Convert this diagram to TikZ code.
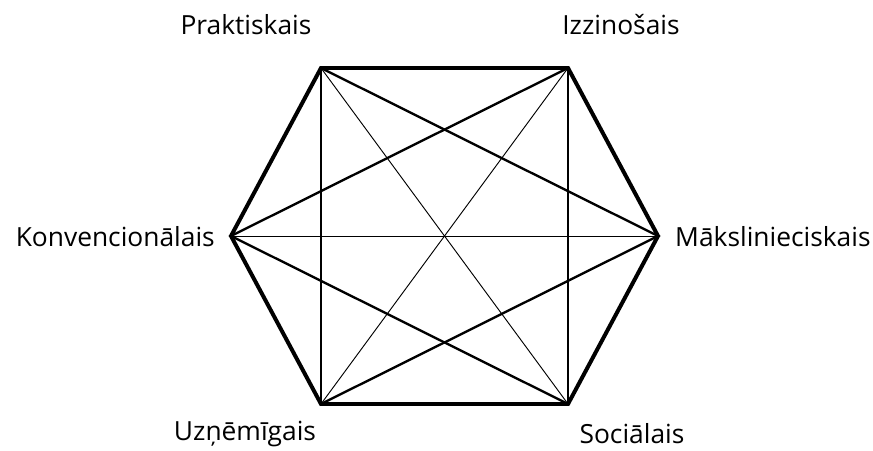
\documentclass[tikz,border=0pt]{standalone}
\usepackage{fontspec}
\setmainfont{Open Sans}
\begin{document}
\begin{tikzpicture}[
	x=0.03cm, y=-0.03cm,
	side/.style={ line width=3.4pt, line join=miter },
	diagm/.style={ line width=2pt },
	diagl/.style={ line width=0.8pt },
	tag/.style={ font=\fontsize{22.5}{26}\selectfont, inner sep=0pt }
]
\useasboundingbox (0,0) rectangle (873,450);

% regular hexagon, corners clockwise from top left

\coordinate (pr) at (321,68);
\coordinate (iz) at (568,68);
\coordinate (ma) at (658,236);
\coordinate (so) at (568,404);
\coordinate (uz) at (321,404);
\coordinate (ko) at (231,236);

\node at (246,25) (tpr) [tag] {Praktiskais};
\node at (621,25) (tiz) [tag] {Izzinošais};
\node at (675,237) (tma) [tag,anchor=west] {Mākslinieciskais};
\node at (632,434) (tso) [tag] {Sociālais};
\node at (245,434) (tuz) [tag] {Uzņēmīgais};
\node at (215,237) (tko) [tag,anchor=east] {Konvencionālais};

\draw[diagl] (pr) to (so);
\draw[diagl] (iz) to (uz);
\draw[diagl] (ko) to (ma);
\draw[diagm] (pr) to (uz);
\draw[diagm] (iz) to (so);
\draw[diagm] (pr) to (ma) to (uz);
\draw[diagm] (iz) to (ko) to (so);
\draw[side] (pr) -- (iz) -- (ma) -- (so) -- (uz) -- (ko) -- cycle;

\end{tikzpicture}
\end{document}
